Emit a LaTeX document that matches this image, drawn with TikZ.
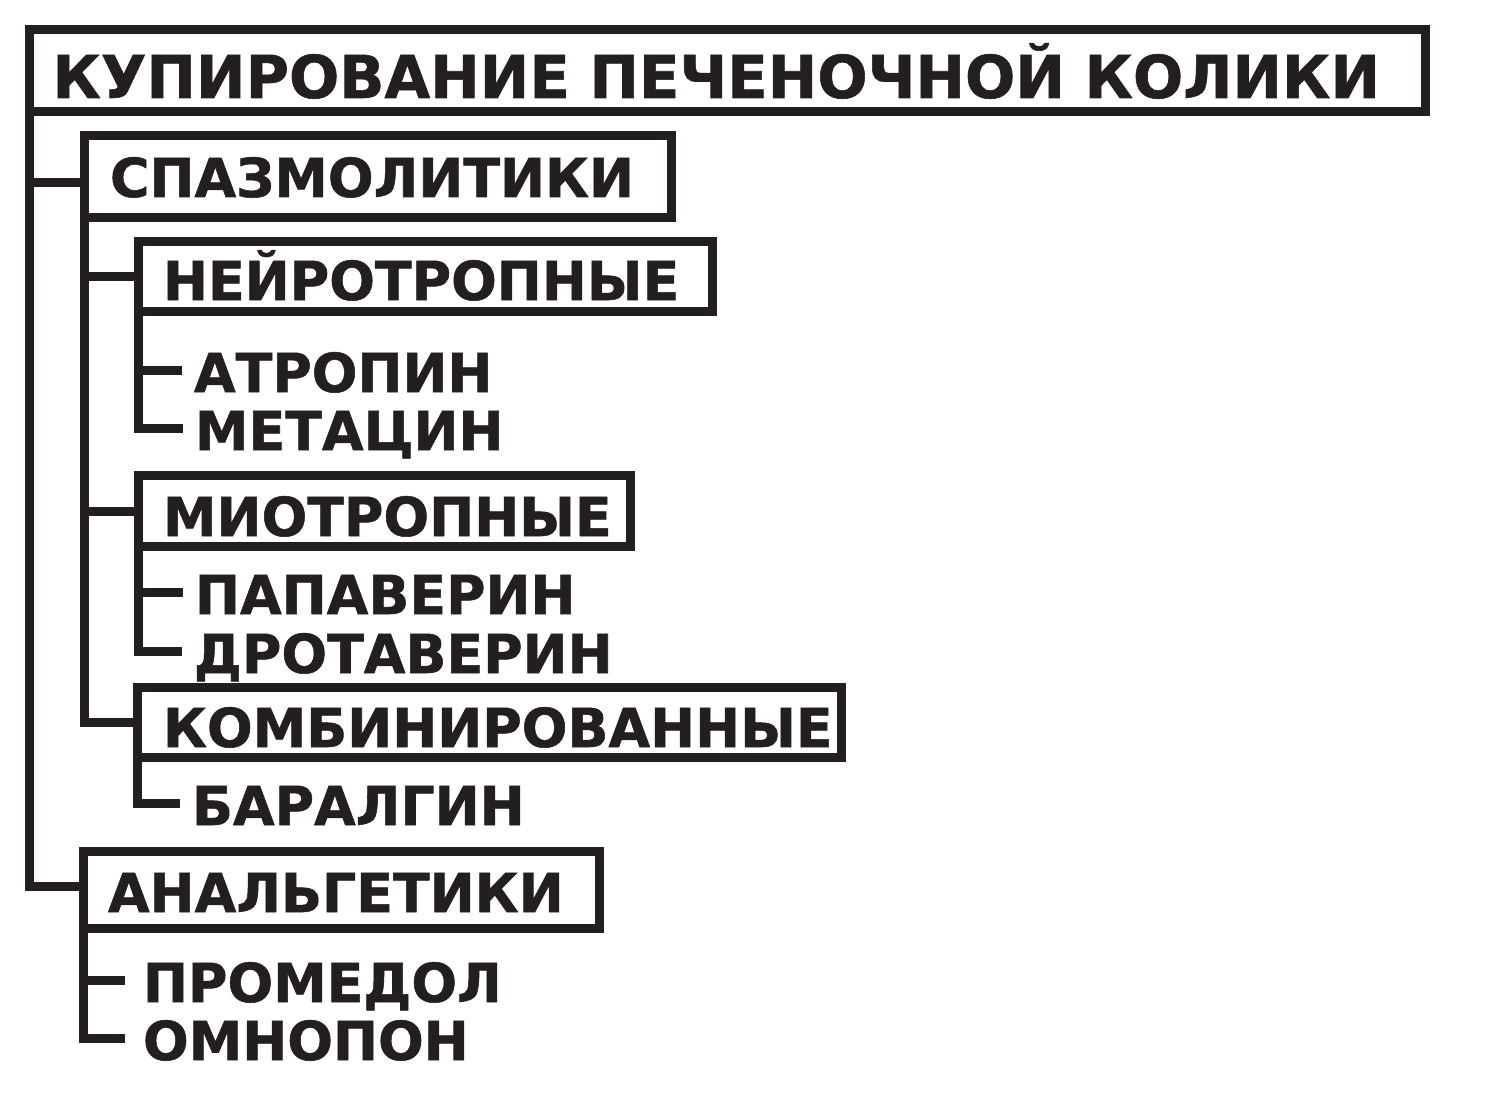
\documentclass[tikz,border=0pt]{standalone}
\usepackage{fontspec}
\setmainfont{DejaVu Sans}[BoldFeatures={FakeBold=1}]
\definecolor{ink}{HTML}{231F20}
\begin{document}
\begin{tikzpicture}[x=0.5pt,y=-0.5pt,
  box/.style={draw=ink, line width=4.5pt, anchor=north west, outer sep=0pt,
    inner ysep=0pt, align=left, text=ink,
    font=\fontsize{26.9}{30}\selectfont\bfseries},
  leaf/.style={anchor=base west, outer sep=0pt, inner ysep=0pt, inner xsep=6pt,
    text height=22pt, text depth=0pt, text=ink,
    font=\fontsize{26.9}{30}\selectfont\bfseries},
  link/.style={draw=ink, line width=4.5pt, line join=miter, line cap=butt}]
\useasboundingbox (0,0) rectangle (1491,1117);
% boxes
\node[box, font=\fontsize{29.6}{36}\selectfont\bfseries, inner xsep=11.5pt, text width=675pt,
  text height=34.25pt, text depth=7pt] (top) at (29.5,29.5) {\mbox{КУПИРОВАНИЕ ПЕЧЕНОЧНОЙ КОЛИКИ}};
\node[box, inner xsep=12.75pt, text width=268pt, text height=30.75pt, text depth=10.5pt]
  (spaz) at (84.5,135.5) {СПАЗМОЛИТИКИ};
\node[box, inner xsep=12.5pt, text width=262.25pt, text height=29.25pt, text depth=5.75pt]
  (neuro) at (138,241.5) {НЕЙРОТРОПНЫЕ};
\node[box, inner xsep=12.5pt, text width=221pt, text height=30.25pt, text depth=5.25pt]
  (myo) at (138,475.5) {МИОТРОПНЫЕ};
\node[box, inner xsep=13pt, text width=326pt, text height=30pt, text depth=5.25pt]
  (comb) at (137,687) {КОМБИНИРОВАННЫЕ};
\node[box, inner xsep=12.5pt, text width=233pt, text height=30.25pt, text depth=8.25pt]
  (anal) at (83,851.5) {АНАЛЬГЕТИКИ};
% leaves
\node[leaf] (atro) at (182,392) {АТРОПИН};
\node[leaf] (meta) at (183,450) {МЕТАЦИН};
\node[leaf] (papa) at (183,614) {ПАПАВЕРИН};
\node[leaf] (drot) at (182,673) {ДРОТАВЕРИН};
\node[leaf] (bara) at (180,825) {БАРАЛГИН};
\node[leaf, inner xsep=9pt] (prom) at (125,1002) {ПРОМЕДОЛ};
\node[leaf, inner xsep=9pt] (omno) at (125,1060) {ОМНОПОН};
% connectors
\coordinate (jspaz) at ([yshift=-3pt]spaz.west);
\coordinate (janal) at ([yshift=2pt]anal.west);
\draw[link] (top.south west) |- (janal);
\draw[link] (top.south west |- jspaz) -- (jspaz);
\draw[link] (spaz.south west) |- (comb.west);
\draw[link] (spaz.south west |- neuro.west) -- (neuro.west);
\draw[link] (spaz.south west |- myo.west) -- (myo.west);
\draw[link] (neuro.south west |- atro.west) -- (atro.west);
\draw[link] (neuro.south west) |- (meta.west);
\draw[link] (myo.south west |- papa.west) -- (papa.west);
\draw[link] (myo.south west) |- (drot.west);
\draw[link] (comb.south west) |- (bara.west);
\draw[link] (anal.south west |- prom.west) -- (prom.west);
\draw[link] (anal.south west) |- (omno.west);
\end{tikzpicture}
\end{document}
